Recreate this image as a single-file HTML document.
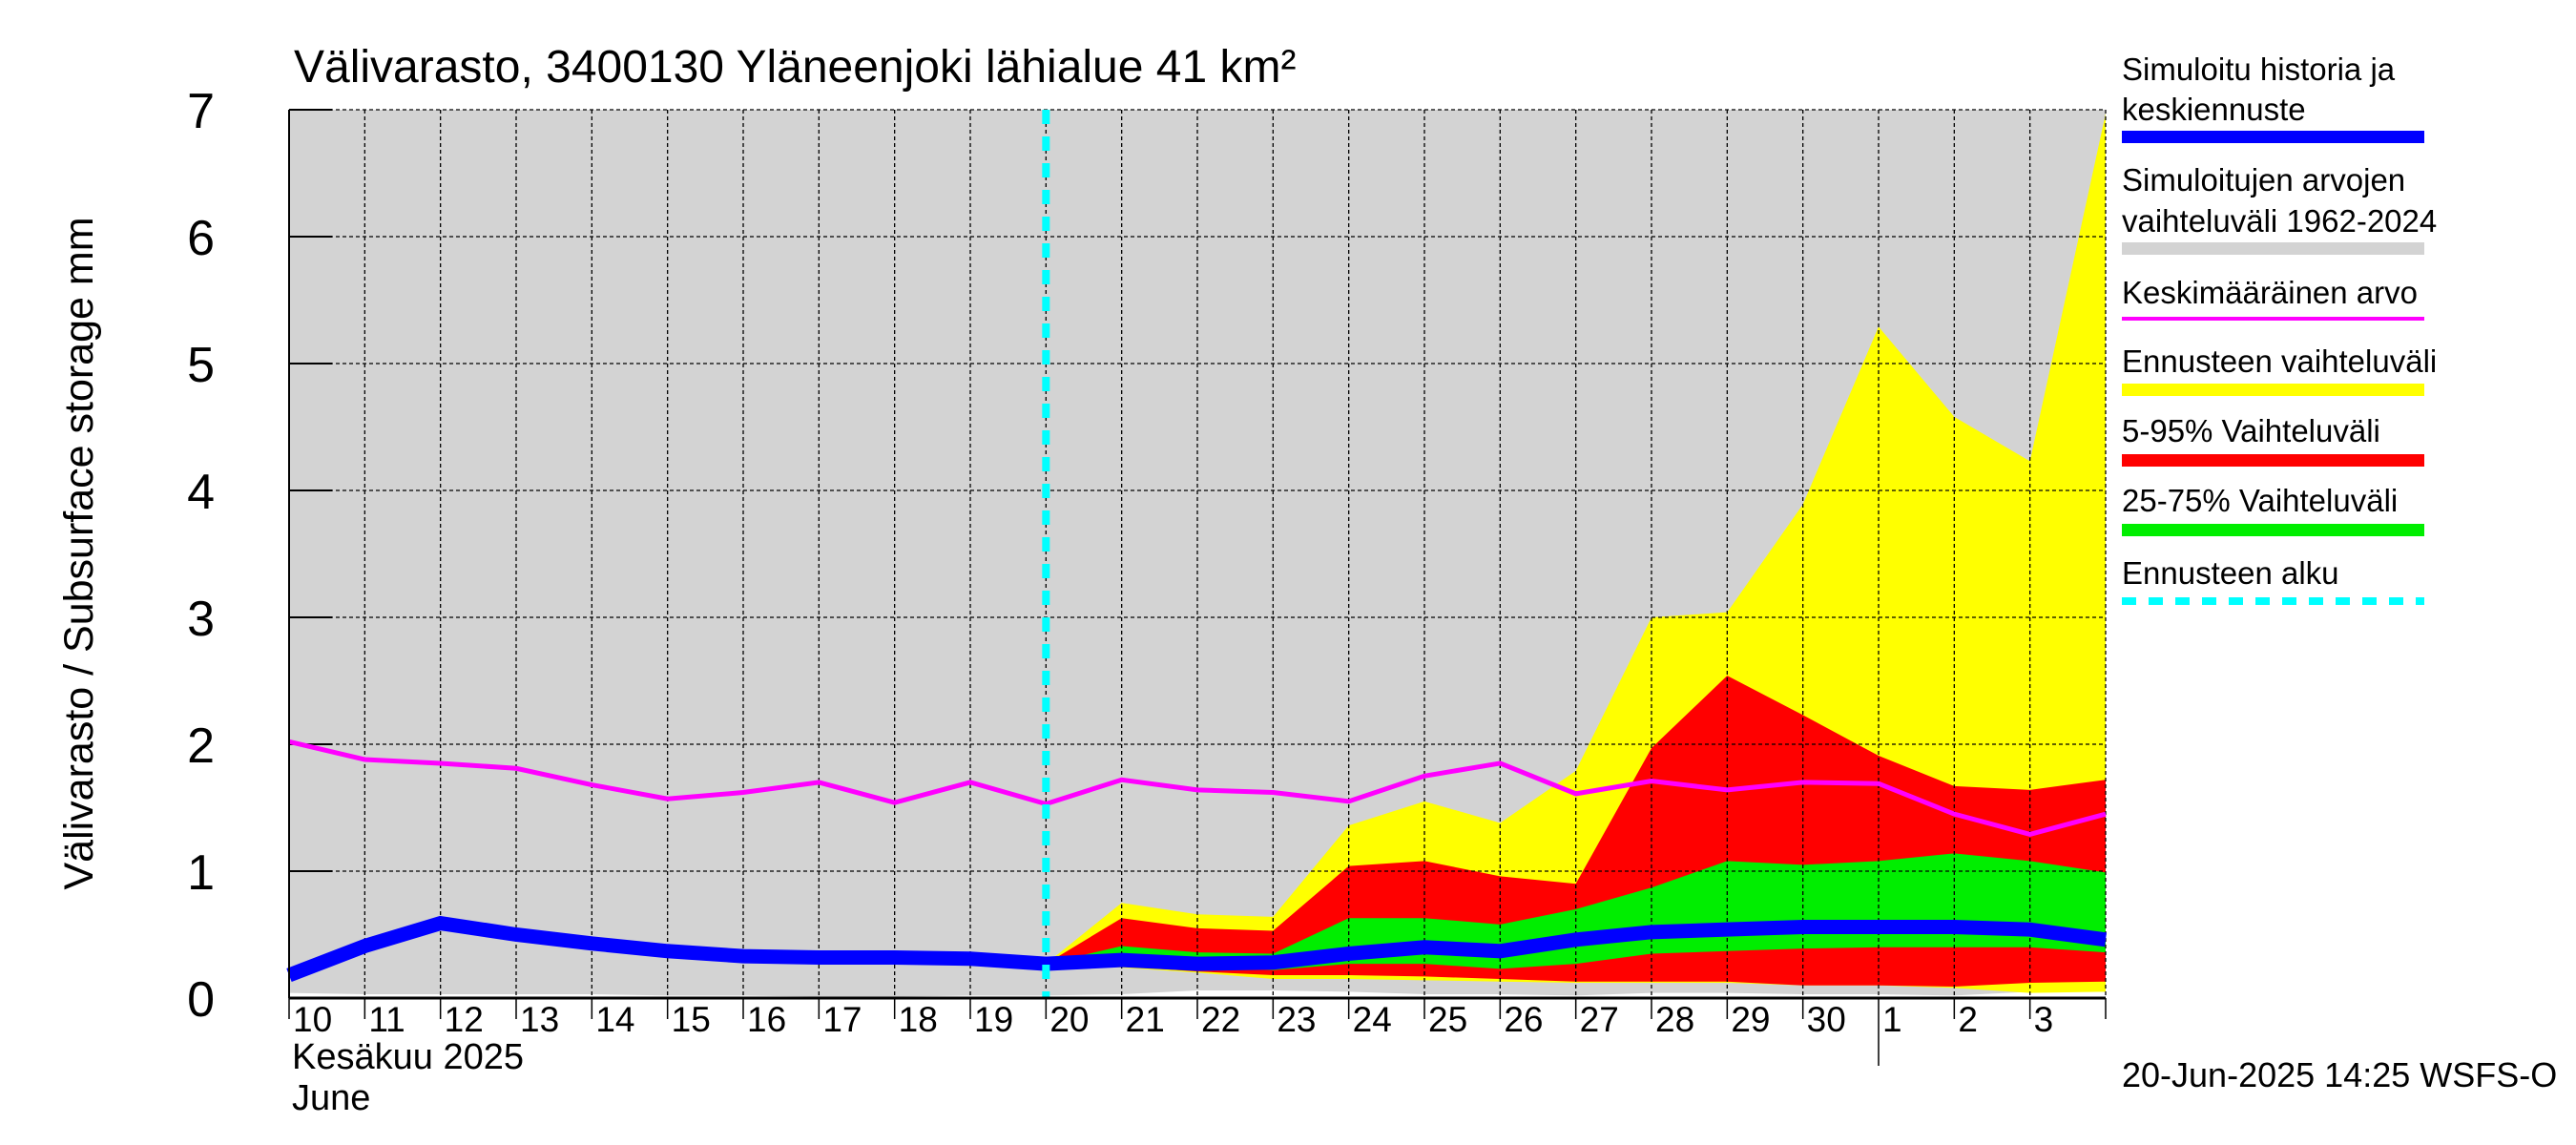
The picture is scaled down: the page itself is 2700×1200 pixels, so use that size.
<!DOCTYPE html>
<html><head><meta charset="utf-8"><style>html,body{margin:0;padding:0;background:#fff}svg{display:block;font-family:"Liberation Sans",sans-serif}</style></head>
<body>
<svg id="chart" width="2700" height="1200" viewBox="0 0 2700 1200" xmlns="http://www.w3.org/2000/svg">
<g id="plot"></g>
<text x="308" y="86" font-size="48">Välivarasto, 3400130 Yläneenjoki lähialue 41 km²</text>
<text transform="translate(97,580) rotate(-90)" text-anchor="middle" font-size="43">Välivarasto / Subsurface storage  mm</text>
<text x="306" y="1120" font-size="38">Kesäkuu   2025</text>
<text x="306" y="1163" font-size="38">June</text>
<text x="2224" y="1139" font-size="36">20-Jun-2025 14:25 WSFS-O</text>
<g font-size="33">
<text x="2224" y="84">Simuloitu historia ja</text><text x="2224" y="126">keskiennuste</text>
<rect x="2224" y="137" width="317" height="13" fill="#0000ff"/>
<text x="2224" y="200">Simuloitujen arvojen</text><text x="2224" y="243">vaihteluväli 1962-2024</text>
<rect x="2224" y="254" width="317" height="13" fill="#d3d3d3"/>
<text x="2224" y="318">Keskimääräinen arvo</text>
<rect x="2224" y="332" width="317" height="4" fill="#ff00ff"/>
<text x="2224" y="390">Ennusteen vaihteluväli</text>
<rect x="2224" y="402" width="317" height="13" fill="#ffff00"/>
<text x="2224" y="463">5-95% Vaihteluväli</text>
<rect x="2224" y="476" width="317" height="13" fill="#ff0000"/>
<text x="2224" y="536">25-75% Vaihteluväli</text>
<rect x="2224" y="549" width="317" height="13" fill="#00ee00"/>
<text x="2224" y="612">Ennusteen alku</text>
<line x1="2224" y1="630" x2="2541" y2="630" stroke="#00ffff" stroke-width="8" stroke-dasharray="15,13"/>
</g>
</svg>
<script>
const dayLabels=["10","11","12","13","14","15","16","17","18","19","20","21","22","23","24","25","26","27","28","29","30","1","2","3"];
const yTicks=[0,1,2,3,4,5,6,7];
const median=[0.18,0.41,0.59,0.5,0.43,0.37,0.33,0.32,0.32,0.31,0.27,0.3,0.27,0.28,0.35,0.4,0.37,0.46,0.52,0.54,0.56,0.56,0.56,0.54,0.46];
const mean=[2.02,1.88,1.85,1.81,1.68,1.57,1.62,1.70,1.54,1.70,1.53,1.72,1.64,1.62,1.55,1.75,1.85,1.61,1.71,1.64,1.70,1.69,1.45,1.29,1.45];
const fcStart=10;
const yelMax=[0.27,0.75,0.66,0.64,1.36,1.55,1.38,1.79,3.0,3.04,3.89,5.29,4.58,4.23,6.97];
const yelMin=[0.27,0.24,0.2,0.15,0.15,0.14,0.13,0.12,0.12,0.12,0.1,0.1,0.08,0.04,0.05];
const redMax=[0.27,0.63,0.55,0.53,1.04,1.08,0.96,0.9,1.97,2.54,2.23,1.91,1.67,1.64,1.72];
const redMin=[0.27,0.25,0.21,0.18,0.18,0.17,0.15,0.13,0.13,0.13,0.1,0.1,0.09,0.12,0.13];
const grnMax=[0.27,0.41,0.36,0.35,0.63,0.63,0.58,0.7,0.87,1.08,1.05,1.08,1.14,1.08,0.99];
const grnMin=[0.27,0.28,0.25,0.22,0.27,0.27,0.23,0.27,0.35,0.37,0.39,0.4,0.4,0.4,0.36];
const grayMin=[0.04,0.03,0.03,0.03,0.03,0.02,0.02,0.01,0.01,0.02,0.02,0.03,0.06,0.06,0.05,0.03,0.03,0.02,0.04,0.04,0.03,0.03,0.02,0.05,0.05];

const L=303,R=2207,T=115,B=1046,DW=(R-L)/24;
const X=i=>L+i*DW, Y=v=>B-(v/7)*(B-T);
const NS="http://www.w3.org/2000/svg", g=document.getElementById('plot');
function mk(t,a,name){const e=document.createElementNS(NS,t);for(const k in a)e.setAttribute(k,a[k]);


g.appendChild(e);return e;}
function band(top,bot,off,fill,name){let p=top.map((v,i)=>X(i+off)+','+Y(v));for(let i=bot.length-1;i>=0;i--)p.push(X(i+off)+','+Y(bot[i]));mk('polygon',{points:p.join(' '),fill:fill},name);}
const grayTop=grayMin.map(()=>7);
band(grayTop,grayMin,0,'#d3d3d3','historical-range-band');
band(yelMax,yelMin,fcStart,'#ffff00','forecast-range-band');
band(redMax,redMin,fcStart,'#ff0000','band-5-95');
band(grnMax,grnMin,fcStart,'#00ee00','band-25-75');
for(const t of yTicks){ if(t>0) mk('line',{x1:L,x2:R,y1:Y(t),y2:Y(t),stroke:'#000','stroke-width':1.3,'stroke-dasharray':'4,3'},'y-gridline');
 const tx=mk('text',{x:225,y:Y(t)+19,'font-size':52,'text-anchor':'end'},'y-tick-label');tx.textContent=t;
 mk('line',{x1:L,x2:L+45,y1:Y(t),y2:Y(t),stroke:'#000','stroke-width':2},'y-tick');}
for(let i=0;i<=24;i++){ if(i>0) mk('line',{x1:X(i),x2:X(i),y1:T,y2:B,stroke:'#000','stroke-width':1.3,'stroke-dasharray':'4,3'},'x-gridline');
 mk('line',{x1:X(i),x2:X(i),y1:B,y2:i==21?1117:1068,stroke:'#000','stroke-width':1.5},'x-tick');
 if(i<24){const tx=mk('text',{x:X(i)+4,y:1081,'font-size':37},'x-tick-label');tx.textContent=dayLabels[i];}}
mk('polyline',{points:mean.map((v,i)=>X(i)+','+Y(v)).join(' '),fill:'none',stroke:'#ff00ff','stroke-width':5},'mean-line');
mk('polyline',{points:median.map((v,i)=>X(i)+','+Y(v)).join(' '),fill:'none',stroke:'#0000ff','stroke-width':15},'median-line');
mk('line',{x1:X(fcStart),x2:X(fcStart),y1:T,y2:B,stroke:'#00ffff','stroke-width':8,'stroke-dasharray':'15,13'},'forecast-start-line');
mk('line',{x1:L,x2:L,y1:T,y2:B,stroke:'#000','stroke-width':2},'y-axis');
mk('line',{x1:L,x2:R,y1:B,y2:B,stroke:'#000','stroke-width':3},'x-axis');
</script>
</body></html>
